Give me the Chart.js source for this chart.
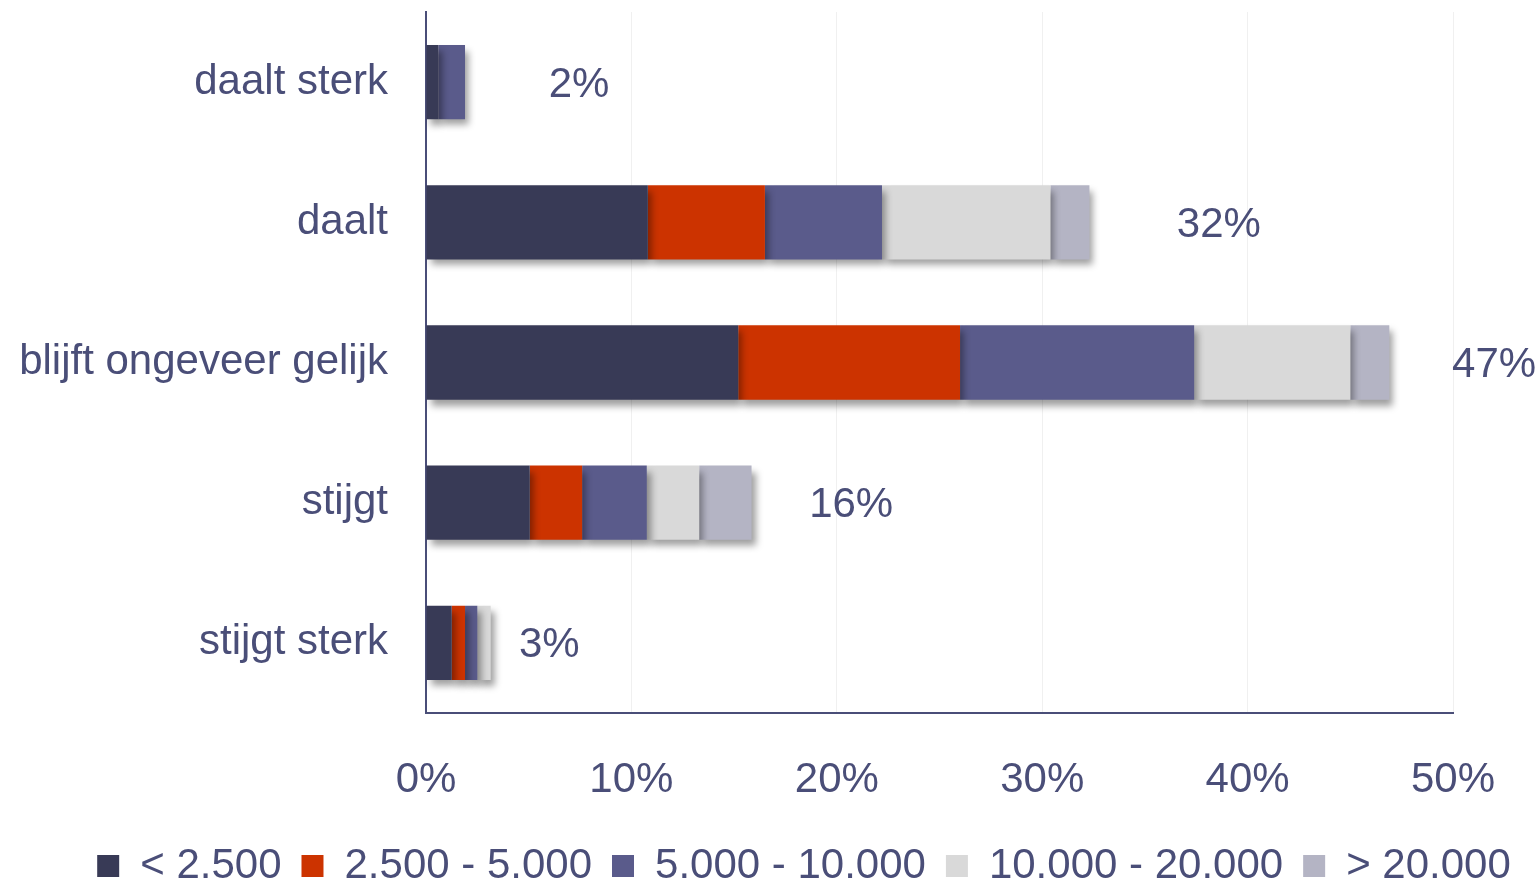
<!DOCTYPE html>
<html>
<head>
<meta charset="utf-8">
<script src="https://cdn.jsdelivr.net/npm/chart.js@4.4.1/dist/chart.umd.min.js"></script>
<style>
html,body{margin:0;padding:0;background:#fff;}
#wrap{width:1540px;height:878px;}
</style>
</head>
<body>
<div id="wrap"><canvas id="c" width="1540" height="878"></canvas></div>
<script>
const categories = ['daalt sterk', 'daalt', 'blijft ongeveer gelijk', 'stijgt', 'stijgt sterk'];
const seriesNames = ['< 2.500', '2.500 - 5.000', '5.000 - 10.000', '10.000 - 20.000', '> 20.000'];
const below2500 = [0.6, 10.8, 15.2, 5.05, 1.25];
const from2500to5000 = [0, 5.7, 10.8, 2.55, 0.65];
const from5000to10000 = [1.3, 5.7, 11.4, 3.15, 0.6];
const from10000to20000 = [0, 8.2, 7.6, 2.55, 0.65];
const above20000 = [0, 1.9, 1.9, 2.55, 0];
const totalLabels = ['2%', '32%', '47%', '16%', '3%'];
const totalLabelPos = [7.45, 38.6, 52.0, 20.7, 6.0];
const xTicks = [0, 10, 20, 30, 40, 50];

const colors = ['#383a56', '#cc3300', '#5a5b8b', '#d9d9d9', '#b4b4c4'];
const textColor = '#4a4e78';
const FONT = "'Liberation Sans', Arial, sans-serif";
const FS = 42;
const seriesData = [below2500, from2500to5000, from5000to10000, from10000to20000, above20000];

const shadowPlugin = {
  id: 'shadow',
  beforeDatasetsDraw(chart) {
    const ctx = chart.ctx;
    ctx.save();
    ctx.shadowColor = 'rgba(0,0,0,0.38)';
    ctx.shadowBlur = 7;
    ctx.shadowOffsetX = 4;
    ctx.shadowOffsetY = 6;
  },
  afterDatasetsDraw(chart) {
    chart.ctx.restore();
  }
};

const legendShift = {
  id: 'legendShift',
  afterLayout(chart) {
    if (chart.legend) { chart.legend.left += 34; chart.legend.right += 34; }
  }
};

const totalsPlugin = {
  id: 'totals',
  afterDatasetsDraw(chart) {
    const ctx = chart.ctx;
    const xs = chart.scales.x, ys = chart.scales.y;
    ctx.save();
    ctx.font = FS + 'px ' + FONT;
    ctx.fillStyle = textColor;
    ctx.textAlign = 'center';
    ctx.textBaseline = 'middle';
    totalLabels.forEach((t, i) => {
      ctx.fillText(t, xs.getPixelForValue(totalLabelPos[i]), ys.getPixelForValue(i) + 3);
    });
    ctx.restore();
  }
};

new Chart(document.getElementById('c'), {
  type: 'bar',
  data: {
    labels: categories,
    datasets: seriesData.map((d, i) => ({
      label: seriesNames[i],
      data: d,
      backgroundColor: colors[i],
      borderWidth: 0,
      categoryPercentage: 1,
      barPercentage: 0.53
    }))
  },
  options: {
    indexAxis: 'y',
    responsive: false,
    animation: false,
    layout: { padding: { top: 12, right: 0, left: 0, bottom: -19 } },
    scales: {
      x: {
        stacked: true,
        min: 0,
        max: 50,
        afterBuildTicks(scale) { scale.ticks = xTicks.map(v => ({ value: v })); },
        afterFit(scale) { scale.height = 112; scale.paddingLeft = 0; scale.paddingRight = 87; },
        ticks: {
          callback: v => v + '%',
          color: textColor,
          font: { size: FS, family: FONT },
          padding: 42,
          maxRotation: 0
        },
        grid: { color: '#f0f0f0', lineWidth: 1, drawTicks: false },
        border: { color: '#4a4e78', width: 2 }
      },
      y: {
        stacked: true,
        afterFit(scale) { scale.width = 426; scale.paddingTop = 0; scale.paddingBottom = 0; },
        ticks: {
          color: textColor,
          font: { size: FS, family: FONT },
          padding: 38
        },
        grid: { display: false, drawTicks: false },
        border: { color: '#4a4e78', width: 2 }
      }
    },
    plugins: {
      legend: {
        position: 'bottom',
        labels: {
          boxWidth: 22,
          boxHeight: 22,
          padding: 20,
          color: textColor,
          font: { size: FS, family: FONT }
        }
      },
      tooltip: { enabled: false }
    }
  },
  plugins: [shadowPlugin, totalsPlugin, legendShift]
});
</script>
</body>
</html>
